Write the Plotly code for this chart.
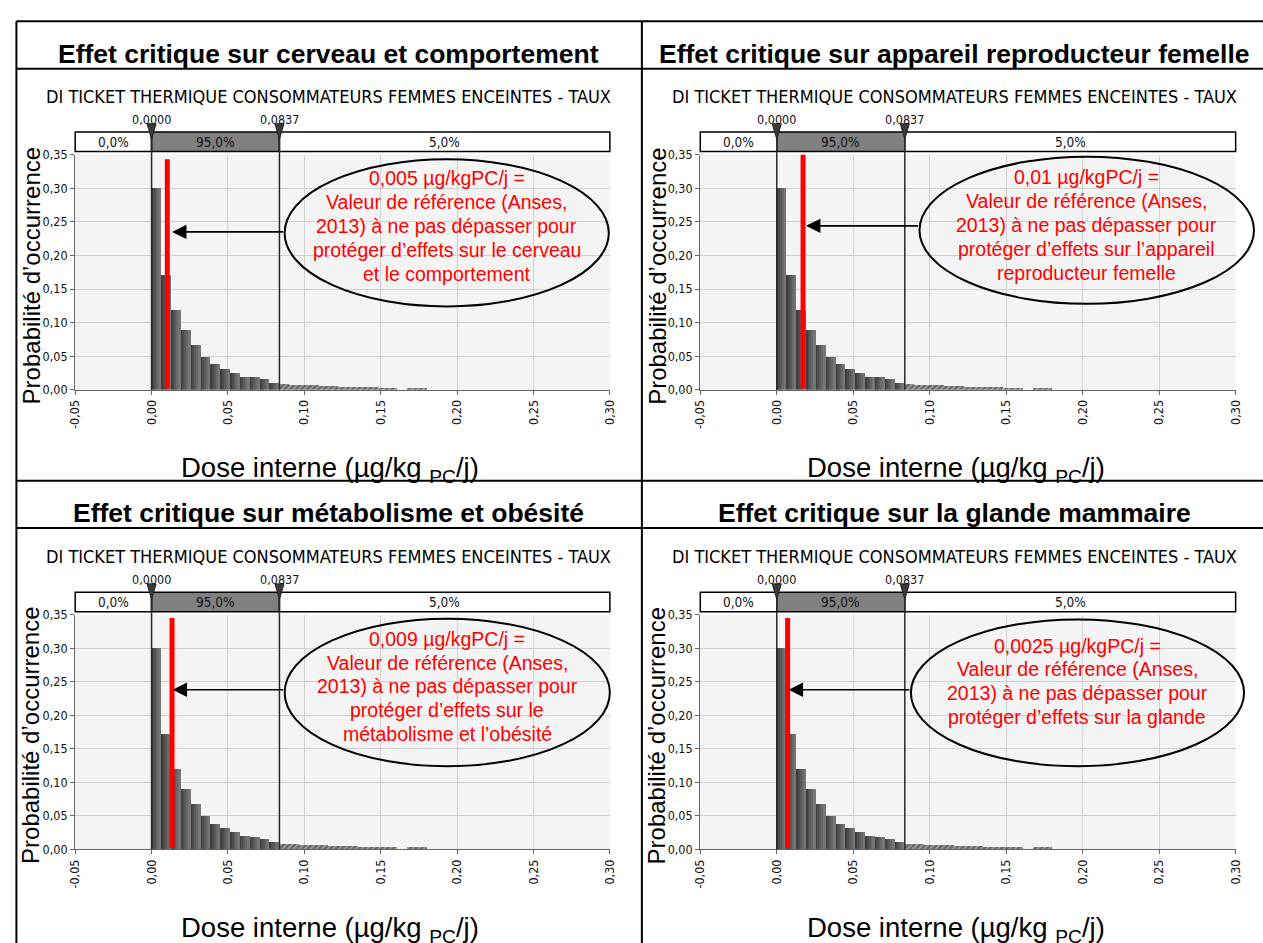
import plotly.graph_objects as go

W, H = 1263, 943

# ---------------- data ----------------
BIN_WIDTH = 0.0837 / 13
core_probs = [0.301, 0.172, 0.120, 0.090, 0.068, 0.050, 0.039, 0.032, 0.026, 0.020, 0.019, 0.016, 0.011]
tail_start = 0.0837
tail_probs = [0.009, 0.008, 0.0075, 0.007, 0.0065, 0.006, 0.0055, 0.005, 0.0045, 0.0045, 0.004, 0.004, 0.0, 0.004, 0.004]
quantiles = [0.0, 0.0837]
quantile_labels = ["0,0000", "0,0837"]
pct_labels = ["0,0%", "95,0%", "5,0%"]
x_tickvals = [-0.05, 0.0, 0.05, 0.10, 0.15, 0.20, 0.25, 0.30]
x_ticktext = ["-0,05", "0,00", "0,05", "0,10", "0,15", "0,20", "0,25", "0,30"]
y_tickvals = [0.0, 0.05, 0.10, 0.15, 0.20, 0.25, 0.30, 0.35]
y_ticktext = ["0,00", "0,05", "0,10", "0,15", "0,20", "0,25", "0,30", "0,35"]
x_range = [-0.05, 0.30]
y_range = [0.0, 0.35]

panel_titles = [
    "Effet critique sur cerveau et comportement",
    "Effet critique sur appareil reproducteur femelle",
    "Effet critique sur métabolisme et obésité",
    "Effet critique sur la glande mammaire",
]
chart_subtitle = "DI TICKET THERMIQUE CONSOMMATEURS FEMMES ENCEINTES - TAUX"
y_title = "Probabilité d’occurrence"
x_title = "Dose interne (µg/kg <sub>PC</sub>/j)"

ref_line_x = [0.0103, 0.0172, 0.0134, 0.0071]
ref_line_top = [0.343, 0.359, 0.345, 0.345]
ref_line_bottom = 0.002
arrow_y = [0.235, 0.244, 0.238, 0.238]
arrow_tip_x = [0.0134, 0.0191, 0.0138, 0.0078]
ellipse_x0 = [0.0871, 0.0933, 0.0871, 0.0877]
ellipse_x1 = [0.2993, 0.3120, 0.3000, 0.3055]
ellipse_y0 = [0.124, 0.128, 0.124, 0.124]
ellipse_y1 = [0.343, 0.347, 0.344, 0.343]
note_first_y = [0.315, 0.316, 0.314, 0.304]
note_step = 0.0355
note_lines = [
    ["0,005 µg/kgPC/j =", "Valeur de référence (Anses,", "2013) à ne pas dépasser pour",
     "protéger d’effets sur le cerveau", "et le comportement"],
    ["0,01 µg/kgPC/j =", "Valeur de référence (Anses,", "2013) à ne pas dépasser pour",
     "protéger d’effets sur l’appareil", "reproducteur femelle"],
    ["0,009 µg/kgPC/j =", "Valeur de référence (Anses,", "2013) à ne pas dépasser pour",
     "protéger d’effets sur le", "métabolisme et l’obésité"],
    ["0,0025 µg/kgPC/j =", "Valeur de référence (Anses,", "2013) à ne pas dépasser pour",
     "protéger d’effets sur la glande"],
]

# ---------------- layout geometry (window pixels) ----------------
col_x0 = [68.0, 700.6]
col_x1 = [609.1, 1242.4]
row_top = [149.0, 616.5]
row_bot = [388.0, 855.0]
col_center = [324.5, 958.0]
title_y = [46.5, 513.5]
subtitle_y = [90.0, 557.0]
ytitle_x = [23.5, 656.5]
ytitle_y = [272.5, 739.5]
xtitle_x = [326.0, 959.0]
xtitle_y = [469.0, 936.0]
frame_h = [13.5, 61.7, 480.5, 528.3]
frame_v = [8.5, 641.5]

box_y = [0.3545, 0.3835]
tri_y = 0.3845
tri_h = 0.0115
qlabel_y = 0.4025
qline_top = 0.392

ARIAL = "Liberation Sans, Arial, sans-serif"
COND = "DejaVu Sans Condensed, Liberation Sans Narrow, DejaVu Sans, sans-serif"


def PX(px):
    return px / W


def PY(py):
    return 1 - py / H


def fx(v):
    return (v - x_range[0]) / (x_range[1] - x_range[0])


def fy(v):
    return (v - y_range[0]) / (y_range[1] - y_range[0])


fig = go.Figure()
shades = ["#3e3e3e", "#4c4c4c", "#5a5a5a", "#686868", "#767676"]
nsl = len(shades)

layout_axes = {}
for i in range(4):
    r, c = divmod(i, 2)
    sfx = "" if i == 0 else str(i + 1)
    xa, ya = "x" + sfx, "y" + sfx
    centers = [k * BIN_WIDTH + BIN_WIDTH / 2 for k in range(len(core_probs))]
    for k, col in enumerate(shades):
        fig.add_trace(go.Bar(x=centers, y=core_probs, width=BIN_WIDTH / nsl,
                             offset=-BIN_WIDTH / 2 + k * BIN_WIDTH / nsl,
                             marker=dict(color=col, line=dict(width=0)),
                             xaxis=xa, yaxis=ya, showlegend=False, hoverinfo="skip"))
    tcent = [tail_start + k * BIN_WIDTH + BIN_WIDTH / 2 for k in range(len(tail_probs))]
    fig.add_trace(go.Bar(x=tcent, y=tail_probs, width=BIN_WIDTH,
                         marker=dict(color="#666666", line=dict(width=0),
                                     pattern=dict(shape="/", fillmode="overlay", fgcolor="white",
                                                  size=4, solidity=0.3)),
                         xaxis=xa, yaxis=ya, showlegend=False, hoverinfo="skip"))
    # reference value (red line)
    fig.add_trace(go.Scatter(x=[ref_line_x[i], ref_line_x[i]], y=[ref_line_bottom, ref_line_top[i]],
                             mode="lines", line=dict(color="#ff0000", width=5),
                             xaxis=xa, yaxis=ya, showlegend=False, hoverinfo="skip"))

    dom_x = [PX(col_x0[c]), PX(col_x1[c])]
    dom_y = [PY(row_bot[r]), PY(row_top[r])]
    common = dict(showgrid=True, gridcolor="#d0d0d0", gridwidth=1.3, zeroline=False,
                  showline=True, linecolor="#666", linewidth=1.2, ticks="outside",
                  ticklen=4, tickcolor="#666", tickfont=dict(family=COND, size=12.5, color="#111"))
    layout_axes["xaxis" + sfx] = dict(domain=dom_x, range=x_range, anchor=ya, tickvals=x_tickvals,
                                      ticktext=x_ticktext, tickangle=-90, **common)
    layout_axes["yaxis" + sfx] = dict(domain=dom_y, range=y_range, anchor=xa, tickvals=y_tickvals,
                                      ticktext=y_ticktext, **common)

fig.update_layout(**layout_axes)

shapes = []
annotations = []
for i in range(4):
    r, c = divmod(i, 2)
    sfx = "" if i == 0 else str(i + 1)
    xa, ya = "x" + sfx, "y" + sfx
    # percentage box above the plot
    edges = [x_range[0]] + quantiles + [x_range[1]]
    fills = ["white", "#808080", "white"]
    for k in range(3):
        shapes.append(dict(type="rect", xref=xa + " domain", yref=ya + " domain",
                           x0=fx(edges[k]), x1=fx(edges[k + 1]), y0=fy(box_y[0]), y1=fy(box_y[1]),
                           fillcolor=fills[k], line=dict(color="black", width=1.5)))
        annotations.append(dict(xref=xa, yref=ya + " domain", x=(edges[k] + edges[k + 1]) / 2,
                                y=fy((box_y[0] + box_y[1]) / 2), text=pct_labels[k], showarrow=False,
                                xanchor="center", yanchor="middle",
                                font=dict(family=COND, size=13.5, color="#111")))
    for q, ql in zip(quantiles, quantile_labels):
        shapes.append(dict(type="line", xref=xa + " domain", yref=ya + " domain",
                           x0=fx(q), x1=fx(q), y0=0, y1=fy(qline_top),
                           line=dict(color="#2a2a2a", width=1.5)))
        hw = 0.0085
        path = "M {:.5f},{:.5f} L {:.5f},{:.5f} L {:.5f},{:.5f} Z".format(
            fx(q) - hw, fy(tri_y + tri_h), fx(q) + hw, fy(tri_y + tri_h), fx(q), fy(tri_y - tri_h))
        shapes.append(dict(type="path", xref=xa + " domain", yref=ya + " domain", path=path,
                           fillcolor="#3a3a3a", line=dict(color="#222", width=1)))
        annotations.append(dict(xref=xa, yref=ya + " domain", x=q, y=fy(qlabel_y), text=ql,
                                showarrow=False, xanchor="center", yanchor="middle",
                                font=dict(family=COND, size=12.5, color="#111")))
    # ellipse
    shapes.append(dict(type="circle", xref=xa + " domain", yref=ya + " domain",
                       x0=fx(ellipse_x0[i]), x1=fx(ellipse_x1[i]),
                       y0=fy(ellipse_y0[i]), y1=fy(ellipse_y1[i]),
                       line=dict(color="black", width=2)))
    # arrow
    annotations.append(dict(xref=xa, yref=ya, axref=xa, ayref=ya, x=arrow_tip_x[i], y=arrow_y[i],
                            ax=ellipse_x0[i], ay=arrow_y[i], text="", showarrow=True,
                            arrowhead=2, arrowsize=1.8, arrowwidth=1.6, arrowcolor="black"))
    # note text
    cx = (ellipse_x0[i] + ellipse_x1[i]) / 2
    for j, line in enumerate(note_lines[i]):
        annotations.append(dict(xref=xa, yref=ya, x=cx, y=note_first_y[i] - j * note_step,
                                text=line, showarrow=False, xanchor="center", yanchor="middle",
                                font=dict(family=ARIAL, size=19.5, color="#ff0000")))
    # titles
    annotations.append(dict(xref="paper", yref="paper", x=PX(col_center[c]), y=PY(title_y[r]),
                            text="<b>" + panel_titles[i] + "</b>", showarrow=False,
                            xanchor="center", yanchor="middle",
                            font=dict(family=ARIAL, size=26.5, color="black")))
    annotations.append(dict(xref="paper", yref="paper", x=PX(col_center[c]), y=PY(subtitle_y[r]),
                            text=chart_subtitle, showarrow=False, xanchor="center", yanchor="middle",
                            font=dict(family=COND, size=18, color="black")))
    annotations.append(dict(xref="paper", yref="paper", x=PX(ytitle_x[c]), y=PY(ytitle_y[r]),
                            text=y_title, textangle=-90, showarrow=False,
                            xanchor="center", yanchor="middle",
                            font=dict(family=ARIAL, size=24, color="black")))
    annotations.append(dict(xref="paper", yref="paper", x=PX(xtitle_x[c]), y=PY(xtitle_y[r]),
                            text=x_title, showarrow=False, xanchor="center", yanchor="middle",
                            font=dict(family=ARIAL, size=27.5, color="black")))

for hy in frame_h:
    shapes.append(dict(type="line", xref="paper", yref="paper", x0=PX(frame_v[0]), x1=1.02,
                       y0=PY(hy), y1=PY(hy), line=dict(color="black", width=2)))
for vx in frame_v:
    shapes.append(dict(type="line", xref="paper", yref="paper", x0=PX(vx), x1=PX(vx),
                       y0=PY(frame_h[0]), y1=-0.02, line=dict(color="black", width=2)))

fig.update_layout(width=W, height=H, margin=dict(l=0, r=0, t=0, b=0),
                  paper_bgcolor="white", plot_bgcolor="#f4f4f4",
                  barmode="overlay", bargap=0, showlegend=False,
                  shapes=shapes, annotations=annotations)

pin_script = (
    "var gd=document.getElementById('{plot_id}');"
    "gd.style.position='fixed';gd.style.left='0px';gd.style.top='0px';gd.style.margin='0';"
    "document.documentElement.style.margin='0';document.documentElement.style.padding='0';"
    "document.body.style.margin='0';document.body.style.padding='0';"
    "document.documentElement.style.overflow='hidden';document.body.style.overflow='hidden';"
)
fig.write_html("out.html", config={"displayModeBar": False}, post_script=pin_script)
